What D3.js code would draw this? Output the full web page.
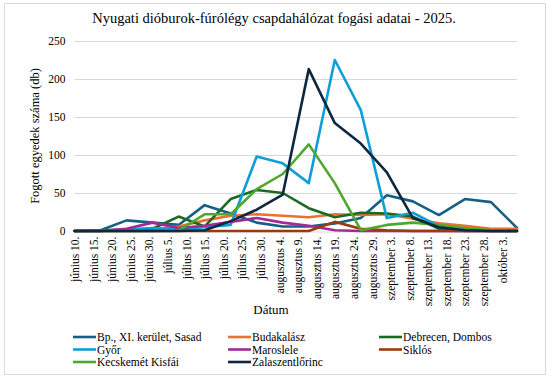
<!DOCTYPE html>
<html>
<head>
<meta charset="utf-8">
<script src="https://cdn.jsdelivr.net/npm/d3@7"></script>
<style>
  html, body { margin: 0; padding: 0; background: #fff; }
  svg { display: block; }
</style>
</head>
<body>
<svg id="chart" width="550" height="380"></svg>
<script>
const title = "Nyugati dióburok-fúrólégy csapdahálózat fogási adatai - 2025.";
const yTitle = "Fogott egyedek száma (db)";
const xTitle = "Dátum";

const dates = ["2025-06-10","2025-06-17","2025-06-24","2025-07-01","2025-07-08","2025-07-15",
  "2025-07-22","2025-07-29","2025-08-05","2025-08-12","2025-08-19","2025-08-26",
  "2025-09-02","2025-09-09","2025-09-16","2025-09-23","2025-09-30","2025-10-07"];

const seriesNames = ["Bp., XI. kerület, Sasad","Budakalász","Debrecen, Dombos","Győr","Maroslele","Siklós","Kecskemét Kisfái","Zalaszentlőrinc"];
const seriesColors = ["#156082","#E97132","#196B24","#0F9ED5","#A02B93","#9A3B0E","#4EA72E","#0E2841"];

const bpSasad      = [0, 1, 14, 11, 8, 34, 23, 11, 6, 6, 10, 17, 47, 39, 21, 42, 38, 4];
const budakalasz   = [0, 0, 1, 2, 6, 14, 20, 22, 20, 18, 22, 21, 22, 16, 10, 7, 3, 3];
const debrecen     = [0, 1, 2, 3, 19, 6, 42, 54, 50, 30, 18, 24, 23, 19, 3, 0, 0, 0];
const gyor         = [0, 0, 2, 4, 2, 5, 8, 98, 89, 63, 225, 159, 17, 24, 6, 2, 0, 0];
const maroslele    = [0, 0, 3, 11, 4, 7, 12, 17, 11, 7, 1, 0, 0, 0, 0, 0, 0, 0];
const siklos       = [0, 0, 0, 0, 0, 0, 0, 0, 0, 0, 12, 3, 1, 0, 0, 0, 0, 0];
const kecskemet    = [0, 0, 0, 0, 1, 22, 22, 55, 75, 114, 63, 1, 8, 11, 8, 4, 1, 0];
const zalaszentl   = [0, 0, 0, 0, 0, 1, 13, 28, 48, 213, 142, 115, 77, 17, 5, 1, 0, 0];

const seriesValues = [bpSasad, budakalasz, debrecen, gyor, maroslele, siklos, kecskemet, zalaszentl];

const yTicks = [0, 50, 100, 150, 200, 250];
const xTickLabels = ["június 10.","június 15.","június 20.","június 25.","június 30.","július 5.",
  "július 10.","július 15.","július 20.","július 25.","július 30.","augusztus 4.","augusztus 9.",
  "augusztus 14.","augusztus 19.","augusztus 24.","augusztus 29.","szeptember 3.","szeptember 8.",
  "szeptember 13.","szeptember 18.","szeptember 23.","szeptember 28.","október 3."];

const FONT = "'Liberation Serif', 'Times New Roman', serif";
const parse = d3.utcParse("%Y-%m-%d");
const dateObjs = dates.map(parse);

const svg = d3.select("#chart").attr("font-family", FONT);

// chart border
svg.append("rect").attr("x", 4.5).attr("y", 3.5).attr("width", 541).attr("height", 371)
  .attr("fill", "#fff").attr("stroke", "#d9d9d9").attr("stroke-width", 1);

const plot = {left: 74.5, right: 517, top: 41, bottom: 231};

const x = d3.scaleUtc().domain([dateObjs[0], dateObjs[dateObjs.length - 1]]).range([plot.left, plot.right]);
const y = d3.scaleLinear().domain([0, 250]).range([plot.bottom, plot.top]);

// gridlines
svg.append("g").selectAll("line").data(yTicks.filter(d => d > 0)).join("line")
  .attr("x1", plot.left).attr("x2", plot.right)
  .attr("y1", d => Math.round(y(d)) + 0.5).attr("y2", d => Math.round(y(d)) + 0.5)
  .attr("stroke", "#d9d9d9").attr("stroke-width", 1);

// title
svg.append("text").attr("x", 274).attr("y", 23).attr("text-anchor", "middle")
  .attr("font-family", FONT).attr("font-size", 14.5).attr("fill", "#000").text(title);

// y axis
const yAxis = svg.append("g").attr("transform", `translate(${plot.left},0)`)
  .call(d3.axisLeft(y).tickValues(yTicks).tickSize(0).tickPadding(9));
yAxis.attr("font-family", FONT);
yAxis.select(".domain").remove();
yAxis.selectAll("text").attr("font-family", FONT).attr("font-size", 11.5).attr("fill", "#000");

// x axis
const tickDates = d3.utcDay.range(dateObjs[0], dateObjs[dateObjs.length - 1], 5);
const xAxis = svg.append("g").attr("transform", `translate(0,${Math.round(plot.bottom) + 0.5})`)
  .call(d3.axisBottom(x).tickValues(tickDates).tickFormat((d, i) => xTickLabels[i]).tickSize(0));
xAxis.attr("font-family", FONT);
xAxis.select(".domain").attr("stroke", "#d9d9d9");
xAxis.selectAll("text")
  .attr("font-family", FONT).attr("font-size", 11.5).attr("fill", "#000")
  .attr("text-anchor", "end")
  .attr("transform", "translate(0,5) rotate(-90)")
  .attr("x", 0).attr("y", 0).attr("dy", "0.35em");

// axis titles
svg.append("text").attr("transform", "translate(39,136) rotate(-90)").attr("text-anchor", "middle")
  .attr("font-family", FONT).attr("font-size", 12.5).attr("fill", "#000").text(yTitle);
svg.append("text").attr("x", 271).attr("y", 314).attr("text-anchor", "middle")
  .attr("font-family", FONT).attr("font-size", 13).attr("fill", "#000").text(xTitle);

// lines
const line = d3.line().x((d, i) => x(dateObjs[i])).y(d => y(d));
svg.append("g").selectAll("path").data(seriesValues).join("path")
  .attr("d", d => line(d))
  .attr("fill", "none")
  .attr("stroke", (d, i) => seriesColors[i])
  .attr("stroke-width", 2.6)
  .attr("stroke-linejoin", "round")
  .attr("stroke-linecap", "round");

// legend
const legX = [73, 228, 379];
const legY = [337, 349.5, 362];
const leg = svg.append("g").selectAll("g").data(seriesNames).join("g")
  .attr("transform", (d, i) => `translate(${legX[i % 3]},${legY[Math.floor(i / 3)]})`);
leg.append("line").attr("x1", 0).attr("x2", 23).attr("y1", 0).attr("y2", 0)
  .attr("stroke", (d, i) => seriesColors[i]).attr("stroke-width", 2.6);
leg.append("text").attr("x", 24).attr("y", 0).attr("dy", "0.35em")
  .attr("font-family", FONT).attr("font-size", 11.5).attr("fill", "#000").text(d => d);
</script>
</body>
</html>
